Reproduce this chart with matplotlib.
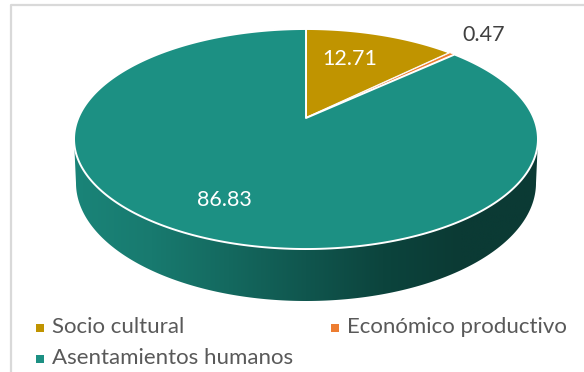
import numpy as np
import matplotlib
matplotlib.use("Agg")
import matplotlib.pyplot as plt
from matplotlib.colors import LinearSegmentedColormap
from matplotlib.patches import Polygon

categories = ["Socio cultural", "Económico productivo", "Asentamientos humanos"]
values = [12.71, 0.47, 86.83]
labels = ["12.71", "0.47", "86.83"]
colors = ["#c09400", "#ed7d31", "#1c9083"]
label_colors = ["white", "#404040", "white"]
label_pos = [(350, 59), (484, 35), (224, 200)]
legend_pos = [(40, 327), (335, 327), (40, 358)]

wall_stops = ["#1a8478", "#187a6f", "#14695f", "#10564e", "#0c443d", "#0b3a34", "#0b3a34"]

plt.rcParams['font.family'] = ['Lato', 'DejaVu Sans']

# top face is a disc seen in perspective, apex sits above the ellipse centre
cx, cy = 306, 118
a, b, k = 227.7, 106, 0.191


def project(theta):
    u = np.sin(theta)
    v = -np.cos(theta)
    w = 1 - k * v
    return cx + a * u / w, cy + b * v / w


fig = plt.figure(figsize=(5.84, 3.72), dpi=100)
ax = fig.add_axes([0, 0, 1, 1])
ax.set_xlim(0, 584)
ax.set_ylim(372, 0)
ax.axis('off')

# frame, only top and left show in the crop
ax.plot([11, 11, 584], [372, 5, 5], color="#d9d9d9", lw=1.6)

# side wall with horizontal gradient
t = np.linspace(-np.pi / 2, np.pi / 2, 200)
low_x = 306 + 230 * np.sin(t)
low_y = 183 + 118 * np.cos(t)
wall_xy = np.vstack([[[74, 139]], np.column_stack([low_x, low_y]), [[538, 139]]])
cmap = LinearSegmentedColormap.from_list("wall", wall_stops)
im = ax.imshow(np.linspace(0, 1, 256)[None, :], cmap=cmap, aspect='auto',
               extent=[74, 538, 301, 130], zorder=1)
im.set_clip_path(Polygon(wall_xy, transform=ax.transData))
ax.set_xlim(0, 584)
ax.set_ylim(372, 0)

# wedges, clockwise from 12 o'clock
fracs = np.array(values) / np.sum(values)
edges = np.concatenate([[0], np.cumsum(fracs)]) * 2 * np.pi
for i in range(len(values)):
    th = np.linspace(edges[i], edges[i + 1], 300)
    x, y = project(th)
    ax.fill(np.r_[cx, x], np.r_[cy, y], facecolor=colors[i], edgecolor="white",
            lw=1.4 if i != 1 else 0.6, joinstyle='round', zorder=2)

for i in range(len(values)):
    ax.text(label_pos[i][0], label_pos[i][1], labels[i], color=label_colors[i],
            fontsize=15.5, ha='center', va='center', zorder=3)

# legend
for i in range(len(categories)):
    lx, ly = legend_pos[i]
    ax.plot([lx], [ly + 1], marker='s', ms=5.5, color=colors[i], mew=0, ls='none')
    ax.text(lx + 12, ly, categories[i], color="#595959", fontsize=16,
            ha='left', va='center')

fig.savefig("out.png", dpi=100)
